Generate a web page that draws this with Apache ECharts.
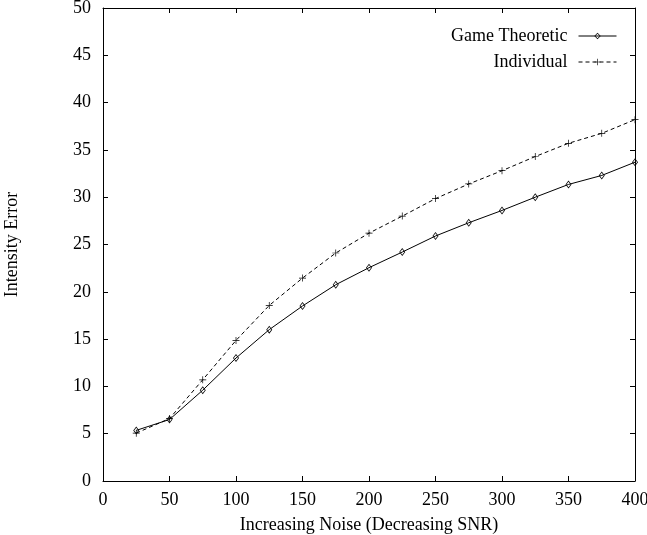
<!DOCTYPE html>
<html>
<head>
<meta charset="utf-8">
<script src="https://cdn.jsdelivr.net/npm/echarts@6/dist/echarts.min.js"></script>
<style>html,body{margin:0;padding:0;background:#fff;}#c{width:647px;height:535px;}</style>
</head>
<body>
<div id="c"></div>
<script>
const noise = [25, 50, 75, 100, 125, 150, 175, 200, 225, 250, 275, 300, 325, 350, 375, 400];
const gameTheoretic = [5.35, 6.5, 9.6, 13.0, 16.0, 18.5, 20.75, 22.55, 24.2, 25.9, 27.3, 28.6, 30.0, 31.35, 32.3, 33.7];
const individual = [5.06, 6.6, 10.7, 14.86, 18.56, 21.45, 24.1, 26.2, 28.0, 29.85, 31.4, 32.8, 34.3, 35.7, 36.75, 38.2];
const seriesNames = ['Game Theoretic', 'Individual'];
const xTitle = 'Increasing Noise (Decreasing SNR)';
const yTitle = 'Intensity Error';

const FONT = 'Liberation Serif';
const plus = 'path://M4.5,0h1v4.5h4.5v1h-4.5v4.5h-1v-4.5h-4.5v-1h4.5z';
const diamond = 'path://M5,0L10,6L5,12L0,6ZM5,1.9L1.5,6L5,10.1L8.5,6Z';
const chart = echarts.init(document.getElementById('c'), null, {renderer: 'canvas'});
const axisCommon = {
  axisLine: {show: true, onZero: false, lineStyle: {color: '#000', width: 1}},
  axisTick: {show: true, inside: true, length: 5, lineStyle: {color: '#000'}},
  splitLine: {show: false}
};
const legendCommon = {
  right: 25, align: 'right', itemWidth: 38, itemHeight: 8, itemGap: 8,
  lineStyle: {width: 1},
  textStyle: {fontFamily: FONT, fontSize: 18, color: '#000', padding: [0, 6, 0, 0]}
};
chart.setOption({
  animation: false,
  textStyle: {fontFamily: FONT, color: '#000'},
  grid: {left: 103, right: 12, top: 8, bottom: 54, containLabel: false, outerBoundsMode: 'none'},
  legend: [
    Object.assign({data: [seriesNames[0]], top: 22}, legendCommon),
    Object.assign({data: [seriesNames[1]], top: 48}, legendCommon)
  ],
  xAxis: [
    Object.assign({type: 'value', min: 0, max: 400, interval: 50, position: 'bottom',
      name: xTitle, nameLocation: 'middle', nameGap: 35,
      nameTextStyle: {fontFamily: FONT, fontSize: 18, color: '#000'},
      axisLabel: {fontFamily: FONT, fontSize: 18, color: '#000', margin: 10}}, axisCommon),
    Object.assign({type: 'value', min: 0, max: 400, interval: 50, position: 'top',
      axisLabel: {show: false}}, axisCommon)
  ],
  yAxis: [
    Object.assign({type: 'value', min: 0, max: 50, interval: 5, position: 'left',
      name: yTitle, nameLocation: 'middle', nameGap: 82, nameRotate: 90,
      nameTextStyle: {fontFamily: FONT, fontSize: 18, color: '#000'},
      axisLabel: {fontFamily: FONT, fontSize: 18, color: '#000', margin: 12}}, axisCommon),
    Object.assign({type: 'value', min: 0, max: 50, interval: 5, position: 'right',
      axisLabel: {show: false}}, axisCommon)
  ],
  series: [
    {name: seriesNames[0], type: 'line', data: noise.map((x, i) => [x, gameTheoretic[i]]),
     symbol: diamond, symbolSize: [6, 8], showAllSymbol: true,
     lineStyle: {color: '#000', width: 1}, itemStyle: {color: '#000'}},
    {name: seriesNames[1], type: 'line', data: noise.map((x, i) => [x, individual[i]]),
     symbol: plus, symbolSize: 7, showAllSymbol: true,
     lineStyle: {color: '#000', width: 1, type: [4, 3]}, itemStyle: {color: '#000'}}
  ]
});
</script>
</body>
</html>
